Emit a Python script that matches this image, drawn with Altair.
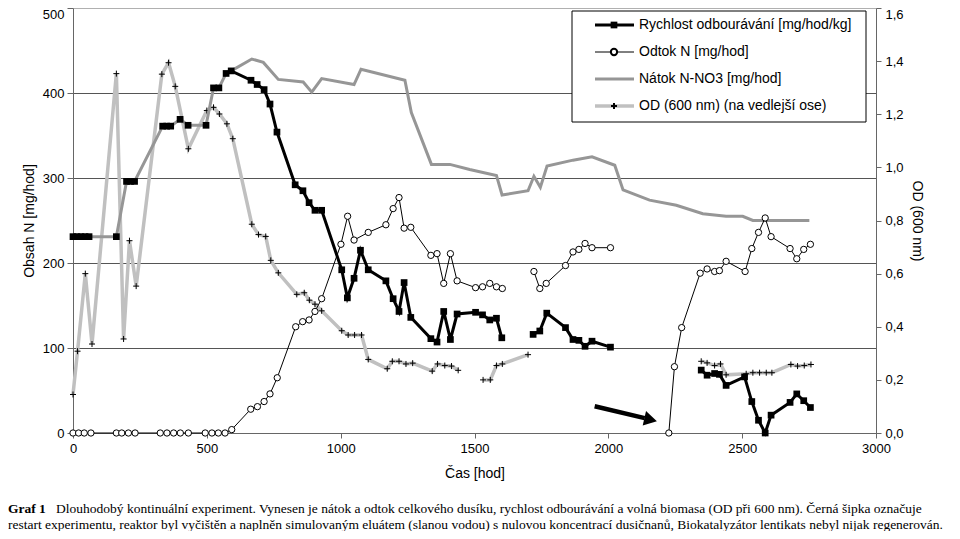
import altair as alt
import pandas as pd

# ---------------- data ----------------
# Rychlost odbourávání [mg/hod/kg] – early isolated points (markers only)
rate_early_t = [0, 15, 30, 45, 60, 162, 200, 215, 230, 335, 350, 365, 400, 430, 497, 525, 545]
rate_early_v = [231, 231, 231, 231, 231, 231, 296, 296, 296, 361, 361, 361, 369, 362, 362, 406, 406]
# connected segments
rate_a_t = [572, 591, 665, 688, 714, 736, 762, 830, 859, 882, 904, 929, 1004, 1025, 1050, 1074, 1103,
            1169, 1196, 1218, 1237, 1262, 1337, 1360, 1385, 1410, 1435, 1504, 1530, 1557, 1582, 1602]
rate_a_v = [423, 426, 415, 410, 404, 387, 354, 292, 285, 271, 262, 262, 192, 159, 182, 215, 192,
            179, 158, 143, 177, 136, 111, 107, 143, 110, 140, 142, 139, 133, 135, 112]
rate_b_t = [1719, 1744, 1770, 1840, 1868, 1890, 1913, 1939, 2008]
rate_b_v = [116, 120, 141, 124, 110, 109, 102, 108, 101]
rate_c_t = [2347, 2369, 2397, 2415, 2440, 2509, 2536, 2561, 2586, 2608, 2679, 2704, 2730, 2755]
rate_c_v = [74, 68, 70, 69, 56, 66, 37, 15, 0, 21, 36, 46, 38, 30]

# Odtok N [mg/hod]
out_a_t = [0, 21, 42, 67, 162, 182, 207, 232, 326, 351, 376, 401, 431, 494, 519, 543, 568, 593,
           664, 689, 714, 736, 763, 832, 858, 882, 904, 929, 1001, 1026, 1050, 1103, 1169, 1196,
           1218, 1237, 1262, 1337, 1360, 1385, 1410, 1435, 1504, 1530, 1557, 1582, 1604]
out_a_v = [0, 0, 0, 0, 0, 0, 0, 0, 0, 0, 0, 0, 0, 0, 0, 0, 0, 4,
           28, 31, 37, 46, 65, 125, 131, 133, 143, 158, 222, 255, 227, 236, 245, 264,
           277, 241, 242, 209, 211, 176, 211, 179, 171, 172, 176, 172, 170]
out_b_t = [1722, 1744, 1768, 1840, 1868, 1890, 1913, 1939, 2008]
out_b_v = [190, 170, 176, 197, 213, 216, 223, 218, 218]
out_c_t = [2226, 2247, 2274, 2343, 2369, 2397, 2415, 2440, 2511, 2536, 2561, 2586, 2608, 2679, 2704, 2730, 2755]
out_c_v = [0, 78, 124, 188, 193, 190, 191, 202, 190, 217, 236, 253, 231, 217, 205, 216, 222]

# Nátok N-NO3 [mg/hod]
in_t = [0, 15, 30, 45, 60, 162, 200, 215, 230, 335, 350, 365, 400, 430, 497, 525, 545, 572, 591,
        668, 711, 767, 860, 892, 929, 1050, 1076, 1240, 1264, 1339, 1408, 1482, 1582, 1603,
        1700, 1722, 1746, 1771, 1868, 1939, 2024, 2055, 2154, 2254, 2353, 2440, 2502, 2540, 2751]
in_v = [231, 231, 231, 231, 231, 231, 296, 296, 296, 361, 361, 361, 369, 362, 362, 406, 406, 423, 426,
        440, 436, 416, 413, 401, 417, 410, 428, 415, 377, 316, 316, 310, 303, 280,
        285, 302, 289, 314, 321, 325, 315, 286, 274, 268, 258, 255, 255, 250, 250]

# OD (600 nm) – secondary axis
od_a_t = [0, 17, 46, 71, 162, 189, 211, 236, 332, 357, 382, 431, 500, 525, 547, 575, 597, 668, 693,
          720, 739, 767, 836, 864, 883, 904, 929, 1004, 1028, 1052, 1078, 1103, 1174, 1193, 1218,
          1244, 1269, 1342, 1362, 1389, 1414, 1439]
od_a_v = [0.145, 0.308, 0.60, 0.335, 1.353, 0.354, 0.724, 0.553, 1.351, 1.394, 1.305, 1.070, 1.214,
          1.226, 1.201, 1.164, 1.108, 0.786, 0.747, 0.740, 0.650, 0.603, 0.522, 0.528, 0.500, 0.485,
          0.460, 0.385, 0.369, 0.369, 0.369, 0.277, 0.242, 0.270, 0.270, 0.260, 0.263, 0.233, 0.260,
          0.254, 0.252, 0.236]
od_b_t = [1532, 1559, 1582, 1604, 1700]
od_b_v = [0.20, 0.20, 0.254, 0.26, 0.295]
od_c_t = [2347, 2369, 2397, 2419, 2440, 2515, 2540, 2565, 2590, 2611, 2682, 2707, 2732, 2757]
od_c_v = [0.27, 0.264, 0.254, 0.26, 0.219, 0.223, 0.227, 0.227, 0.227, 0.227, 0.258, 0.252, 0.254, 0.258]

# restart arrow (start / end in data units)
arrow_t = [1949, 2136]
arrow_v = [31.5, 17.5]
arrow_head_t = [2158]
arrow_head_v = [15.6]

legend_labels = ["Rychlost odbourávání [mg/hod/kg]", "Odtok N [mg/hod]",
                 "Nátok N-NO3 [mg/hod]", "OD (600 nm) (na vedlejší ose)"]
x_ticks = [0, 500, 1000, 1500, 2000, 2500, 3000]
yN_ticks = [0, 100, 200, 300, 400, 500]
yOD_ticks = [0, 0.2, 0.4, 0.6, 0.8, 1.0, 1.2, 1.4, 1.6]

caption_bold = "Graf 1"
caption_line1 = ("Dlouhodobý kontinuální experiment. Vynesen je nátok a odtok celkového dusíku, rychlost "
                 "odbourávání a volná biomasa (OD při 600 nm). Černá šipka označuje")
caption_line2 = ("restart experimentu, reaktor byl vyčištěn a naplněn simulovaným eluátem (slanou vodou) "
                 "s nulovou koncentrací dusičnanů, Biokatalyzátor lentikats nebyl nijak regenerován.")

# ---------------- tables ----------------
def seg_df(parts):
    rows = []
    for name, ts, vs in parts:
        for t, v in zip(ts, vs):
            rows.append({"t": t, "v": v, "seg": name})
    return pd.DataFrame(rows)

rate_line_df = seg_df([("a", rate_a_t, rate_a_v), ("b", rate_b_t, rate_b_v), ("c", rate_c_t, rate_c_v)])
rate_pts_df = seg_df([("e", rate_early_t, rate_early_v), ("a", rate_a_t, rate_a_v),
                      ("b", rate_b_t, rate_b_v), ("c", rate_c_t, rate_c_v)])
out_df = seg_df([("a", out_a_t, out_a_v), ("b", out_b_t, out_b_v), ("c", out_c_t, out_c_v)])
in_df = seg_df([("a", in_t, in_v)])
od_df = seg_df([("a", od_a_t, od_a_v), ("b", od_b_t, od_b_v), ("c", od_c_t, od_c_v)])
arrow_df = pd.DataFrame({"t": [arrow_t[0]], "v": [arrow_v[0]], "t2": [arrow_t[1]], "v2": [arrow_v[1]]})
head_df = pd.DataFrame({"t": arrow_head_t, "v": arrow_head_v})

FONT = "Liberation Sans"
AX = "#666666"
W, H = 803, 425

x_axis = alt.Axis(values=x_ticks, title="Čas [hod]", grid=False, orient="bottom",
                  domainColor=AX, tickColor=AX, tickSize=5, labelFontSize=13, labelFont=FONT,
                  labelColor="black", labelPadding=4, labelFlush=False, titleFont=FONT,
                  titleFontSize=14, titleFontWeight="normal", titleColor="black", titlePadding=11,
                  format="d")
X = alt.X("t:Q", scale=alt.Scale(domain=[0, 3000], nice=False, zero=False), axis=x_axis)
X2 = alt.X2("t2:Q")

yN_axis = alt.Axis(values=yN_ticks, title="Obsah N [mg/hod]", orient="left", grid=True,
                   gridColor={"condition": {"test": "datum.value === 500", "value": "#b0b0b0"},
                              "value": "#555555"},
                   labelBaseline={"condition": {"test": "datum.value === 500", "value": "top"},
                                  "value": "middle"},
                   gridWidth=1, domainColor=AX, tickColor=AX, tickSize=6, labelFontSize=13,
                   labelFont=FONT, labelColor="black", labelPadding=3, labelFlush=False,
                   titleFont=FONT, titleFontSize=14, titleFontWeight="normal", titleColor="black",
                   titlePadding=6, format="d")
YN = alt.Y("v:Q", scale=alt.Scale(domain=[0, 500], nice=False), axis=yN_axis)

yOD_axis = alt.Axis(values=yOD_ticks, title="OD (600 nm)", orient="right", grid=False,
                    domainColor=AX, tickColor=AX, tickSize=5, labelFontSize=13, labelFont=FONT,
                    labelColor="black", labelPadding=4, labelFlush=False,
                    labelBaseline={"condition": {"test": "datum.value > 1.55", "value": "top"},
                                   "value": "middle"},
                    labelExpr="replace(format(datum.value, '.1f'), '.', ',')",
                    titleFont=FONT, titleFontSize=14, titleFontWeight="normal", titleColor="black",
                    titlePadding=6)
YOD = alt.Y("v:Q", scale=alt.Scale(domain=[0, 1.6], nice=False), axis=yOD_axis)

CROSS = "M-1,0H1M0,-1V1"
C_IN = "#969696"
C_OD = "#c0c0c0"

# ---------------- OD layer (secondary axis) ----------------
od_line = alt.Chart(od_df).mark_line(color=C_OD, strokeWidth=3.5).encode(
    x=X, y=YOD, detail="seg:N", order="t:Q")
od_pts = alt.Chart(od_df).mark_point(shape=CROSS, size=36, filled=False, color="black",
                                     strokeWidth=1, opacity=1).encode(x=X, y=YOD)
od_layer = alt.layer(od_line, od_pts)

# ---------------- N layer (primary axis) ----------------
in_line = alt.Chart(in_df).mark_line(color=C_IN, strokeWidth=3).encode(
    x=X, y=YN, detail="seg:N", order="t:Q")
out_line = alt.Chart(out_df).mark_line(color="black", strokeWidth=1).encode(
    x=X, y=YN, detail="seg:N", order="t:Q")
out_pts = alt.Chart(out_df).mark_point(shape="circle", size=40, filled=True, fill="white",
                                       stroke="black", strokeWidth=1, opacity=1).encode(x=X, y=YN)
rate_line = alt.Chart(rate_line_df).mark_line(color="black", strokeWidth=3).encode(
    x=X, y=YN, detail="seg:N", order="t:Q")
rate_pts = alt.Chart(rate_pts_df).mark_point(shape="square", size=45, filled=True, color="black",
                                             opacity=1).encode(x=X, y=YN)
arrow_rule = alt.Chart(arrow_df).mark_rule(color="black", strokeWidth=4.5).encode(
    x=X, y=YN, x2=X2, y2=alt.Y2("v2:Q"))
arrow_head = alt.Chart(head_df).mark_point(shape="triangle-right", size=220, filled=True,
                                           color="black", opacity=1, angle=13).encode(x=X, y=YN)
n_layer = alt.layer(in_line, out_line, out_pts, rate_line, rate_pts, arrow_rule, arrow_head)

# ---------------- legend (manual) ----------------
one = pd.DataFrame({"k": [0]})
legend_layers = [alt.Chart(one).mark_rect(fill="white", stroke="black", strokeWidth=1).encode(
    x=alt.value(499), x2=alt.value(793), y=alt.value(3), y2=alt.value(114))]
row_y = [17, 44, 71, 98]
row_line = [("black", 3), ("black", 1), (C_IN, 3), (C_OD, 3.5)]
for i, lab in enumerate(legend_labels):
    col, sw = row_line[i]
    legend_layers.append(alt.Chart(one).mark_rule(color=col, strokeWidth=sw).encode(
        x=alt.value(522), x2=alt.value(561), y=alt.value(row_y[i])))
    if i == 0:
        legend_layers.append(alt.Chart(one).mark_point(shape="square", size=45, filled=True,
                                                       color="black", opacity=1).encode(
            x=alt.value(541), y=alt.value(row_y[i])))
    elif i == 1:
        legend_layers.append(alt.Chart(one).mark_point(shape="circle", size=40, filled=True,
                                                       fill="white", stroke="black", opacity=1).encode(
            x=alt.value(541), y=alt.value(row_y[i])))
    elif i == 3:
        legend_layers.append(alt.Chart(one).mark_point(shape=CROSS, size=36, filled=False,
                                                       color="black", opacity=1).encode(
            x=alt.value(541), y=alt.value(row_y[i])))
    legend_layers.append(alt.Chart(pd.DataFrame({"lab": [lab]})).mark_text(
        align="left", baseline="middle", font=FONT, fontSize=14, color="black").encode(
        x=alt.value(566), y=alt.value(row_y[i]), text="lab:N"))

# ---------------- caption ----------------
CAP_FONT = "Liberation Serif"
CAP_SIZE = 13.5
cap_layers = [
    alt.Chart(pd.DataFrame({"s": [caption_bold]})).mark_text(
        align="left", baseline="alphabetic", font=CAP_FONT, fontSize=CAP_SIZE, fontWeight="bold",
        color="black").encode(x=alt.value(-65), y=alt.value(505), text="s:N"),
    alt.Chart(pd.DataFrame({"s": [caption_line1]})).mark_text(
        align="left", baseline="alphabetic", font=CAP_FONT, fontSize=CAP_SIZE, color="black").encode(
        x=alt.value(-17), y=alt.value(505), text="s:N"),
    alt.Chart(pd.DataFrame({"s": [caption_line2]})).mark_text(
        align="left", baseline="alphabetic", font=CAP_FONT, fontSize=CAP_SIZE, color="black").encode(
        x=alt.value(-65), y=alt.value(521), text="s:N"),
]

chart = alt.layer(od_layer, n_layer, *legend_layers, *cap_layers).resolve_scale(
    y="independent"
).properties(
    width=W, height=H,
    autosize=alt.AutoSizeParams(type="none"),
    padding={"left": 65, "top": 0, "right": 76, "bottom": 98},
).configure_view(stroke=None)

chart.save("out.html", embed_options={"renderer": "svg", "actions": False})
